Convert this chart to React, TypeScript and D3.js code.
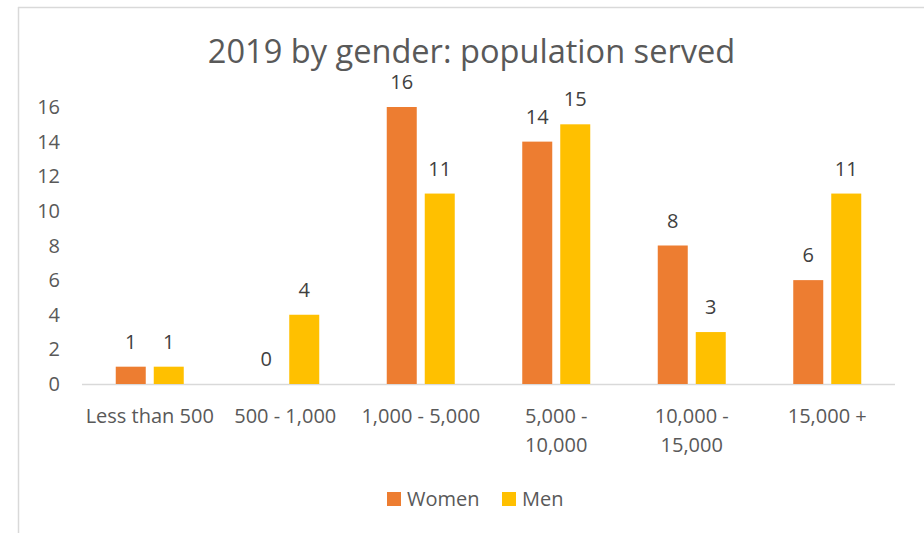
import React from "react";
import * as d3 from "d3";

const categories = [["Less than 500"], ["500 - 1,000"], ["1,000 - 5,000"], ["5,000 -", "10,000"], ["10,000 -", "15,000"], ["15,000 +"]];
const women = [1, 0, 16, 14, 8, 6];
const men = [1, 4, 11, 15, 3, 11];
const seriesNames = ["Women", "Men"];
const yTicks = [0, 2, 4, 6, 8, 10, 12, 14, 16];
const title = "2019 by gender: population served";

const W = 924, H = 533;
const colors = ["#ED7D31", "#FFC000"];
const font = "'Open Sans', sans-serif";
const fs = 20;

export default function App() {
  const x0 = d3.scaleBand<number>().domain(d3.range(categories.length)).range([82, 895]).paddingInner(0).paddingOuter(0);
  const y = d3.scaleLinear().domain([0, 16]).range([384, 107]);
  const barW = 30, gap = 8;
  const series = [women, men];
  return (
    <svg width={W} height={H} style={{ position: "absolute", left: 0, top: 0 }}>
      <rect x={0} y={0} width={W} height={H} fill="#fff" />
      <line x1={18} y1={7.5} x2={W} y2={7.5} stroke="#d9d9d9" strokeWidth={1.5} />
      <line x1={18.5} y1={7} x2={18.5} y2={H} stroke="#d9d9d9" strokeWidth={1.5} />
      <text x={471.5} y={52} dy="0.35em" textAnchor="middle" fontFamily={font} fontSize={32.6} fill="#595959">{title}</text>
      {yTicks.map((t) => (
        <text key={t} x={60} y={y(t)} dy="0.35em" textAnchor="end" fontFamily={font} fontSize={fs} fill="#595959">{t}</text>
      ))}
      <line x1={82} x2={895} y1={384.5} y2={384.5} stroke="#d9d9d9" strokeWidth={1.5} />
      {categories.map((c, i) => {
        const cx = (x0(i) as number) + x0.bandwidth() / 2;
        return (
          <g key={i}>
            {series.map((s, k) => {
              const bx = k === 0 ? cx - gap / 2 - barW : cx + gap / 2;
              return (
                <g key={k}>
                  <rect x={bx} y={y(s[i])} width={barW} height={y(0) - y(s[i])} fill={colors[k]} />
                  <text x={bx + barW / 2} y={y(s[i]) - 25} dy="0.35em" textAnchor="middle" fontFamily={font} fontSize={fs} fill="#404040">{s[i]}</text>
                </g>
              );
            })}
            {c.map((line, j) => (
              <text key={j} x={cx} y={416 + j * 29} dy="0.35em" textAnchor="middle" fontFamily={font} fontSize={fs} fill="#595959">{line}</text>
            ))}
          </g>
        );
      })}
      {seriesNames.map((n, k) => {
        const lx = k === 0 ? 387 : 502;
        return (
          <g key={n}>
            <rect x={lx} y={492} width={14} height={14} fill={colors[k]} />
            <text x={lx + 20} y={499} dy="0.35em" fontFamily={font} fontSize={fs} fill="#595959">{n}</text>
          </g>
        );
      })}
    </svg>
  );
}
